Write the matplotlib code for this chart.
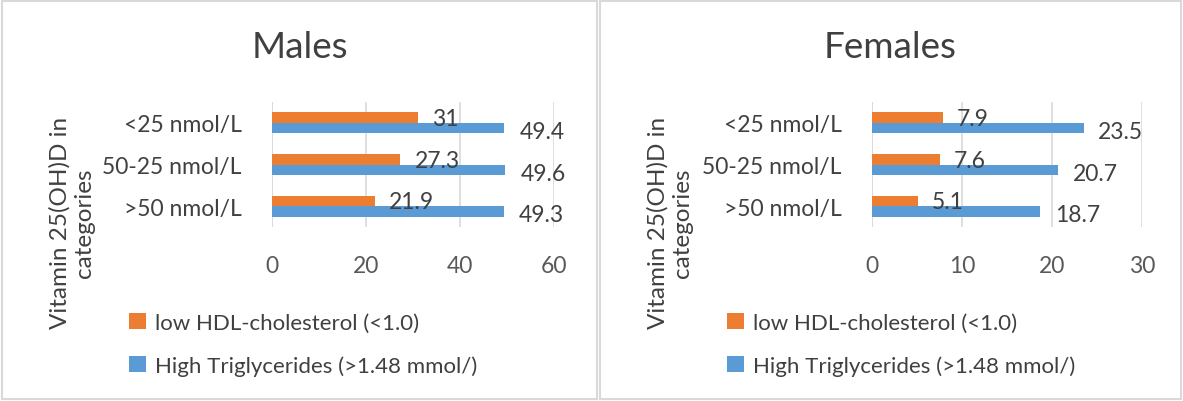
import matplotlib.pyplot as plt
from matplotlib.patches import Rectangle

plt.rcParams['font.family'] = ['Lato', 'DejaVu Sans']

categories = ['<25 nmol/L', '50-25 nmol/L', '>50 nmol/L']
series_names = ['low HDL-cholesterol (<1.0)', 'High Triglycerides (>1.48 mmol/)']
males_hdl = [31, 27.3, 21.9]
males_tg = [49.4, 49.6, 49.3]
females_hdl = [7.9, 7.6, 5.1]
females_tg = [23.5, 20.7, 18.7]
males_ticks = [0, 20, 40, 60]
females_ticks = [0, 10, 20, 30]

ORANGE = '#ED7D31'
BLUE = '#5B9BD5'
TXT = '#404040'
TICK = '#595959'
GRID = '#D9D9D9'

W, H = 1183, 402
fig = plt.figure(figsize=(W / 100, H / 100), dpi=100)


def px_axes(x0, y0, x1, y1):
    return fig.add_axes([x0 / W, 1 - y1 / H, (x1 - x0) / W, (y1 - y0) / H])


def panel(px0, px1, ax_x0, ax_x1, title, hdl, tg, ticks):
    fig.patches.append(Rectangle((px0 / W, 2 / H), (px1 - px0) / W, (H - 4) / H,
                                 transform=fig.transFigure, fill=False,
                                 edgecolor=GRID, lw=1.5))
    ax = px_axes(ax_x0, 103, ax_x1, 228)
    ypos = [2, 1, 0]
    h = 0.25
    bh = ax.barh([y + h / 2 for y in ypos], hdl, height=h, color=ORANGE, label=series_names[0])
    bt = ax.barh([y - h / 2 for y in ypos], tg, height=h, color=BLUE, label=series_names[1])
    span = ticks[-1]
    for y, v in zip(ypos, hdl):
        ax.text(v + span * 0.05, y + h / 2 - 0.02, f'{v:g}', fontsize=16.5, color=TXT,
                va='center', ha='left')
    for y, v in zip(ypos, tg):
        ax.text(v + span * 0.055, y - h / 2 - 0.08, f'{v:g}', fontsize=16.5, color=TXT,
                va='center', ha='left', clip_on=False)
    ax.set_xlim(0, span)
    ax.set_ylim(-0.5, 2.5)
    ax.set_xticks(ticks)
    ax.set_yticks(ypos)
    ax.set_yticklabels(categories)
    ax.tick_params(axis='x', length=0, pad=20, labelsize=16.5, labelcolor=TICK)
    ax.tick_params(axis='y', length=0, pad=22, labelsize=16.5, labelcolor=TXT)
    ax.grid(axis='x', color=GRID, lw=1.2)
    ax.set_axisbelow(True)
    for s in ax.spines.values():
        s.set_visible(False)
    ax.axvline(0, color=GRID, lw=1.2, zorder=0)
    cx = (px0 + px1) / 2
    fig.text(cx / W, 1 - 47 / H, title, fontsize=26.5, color=TXT, ha='center', va='center')
    fig.text((px0 + 70) / W, 1 - 223 / H, 'Vitamin 25(OH)D in\ncategories', fontsize=17.5,
             color=TXT, rotation=90, ha='center', va='center', linespacing=1.2)
    fig.legend(handles=[bh, bt], loc='upper left',
               bbox_to_anchor=((px0 + 107) / W, 1 - 294 / H),
               frameon=False, fontsize=16, labelcolor=TXT, handlelength=0.75,
               handleheight=0.75, handletextpad=0.4, labelspacing=1.0)
    return ax


panel(2, 597, 272, 554, 'Males', males_hdl, males_tg, males_ticks)
panel(600, 1181, 872, 1142, 'Females', females_hdl, females_tg, females_ticks)

fig.savefig('out.png', dpi=100, facecolor='white')
